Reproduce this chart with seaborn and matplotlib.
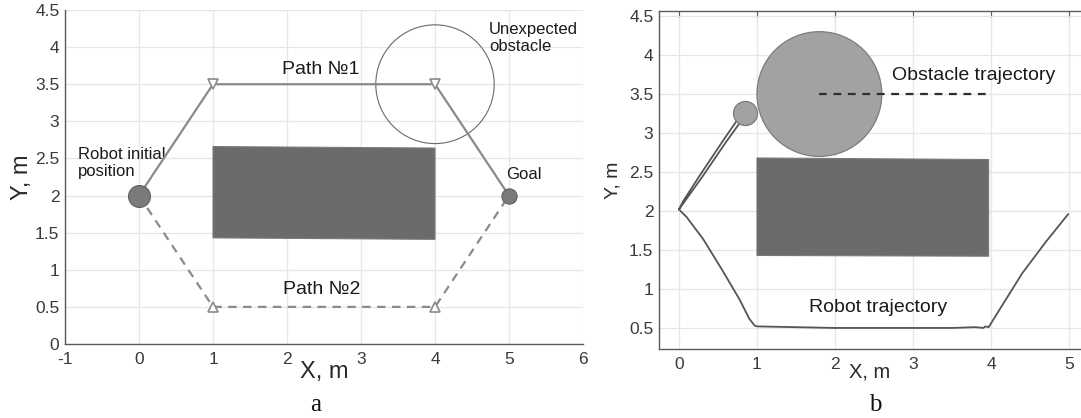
import matplotlib
matplotlib.use("Agg")
import matplotlib.pyplot as plt
import seaborn as sns
import numpy as np
import pandas as pd
from matplotlib.patches import Circle, Polygon

# ---------------- data ----------------
# panel a
path1_x = [0, 1, 4, 5]
path1_y = [2, 3.5, 3.5, 2]
path2_x = [0, 1, 4, 5]
path2_y = [2, 0.5, 0.5, 2]
start_xy = (0, 2)
goal_xy = (5, 2)
obstacle_a_center = (4, 3.5)
obstacle_a_radius = 0.8
block_a = [(1.0, 2.66), (4.0, 2.64), (4.0, 1.41), (1.0, 1.43)]

# panel b
robot_traj_x = [0.0, 0.3, 0.6, 0.83, 0.79, 0.55, 0.25, 0.05, 0.0,
                0.1, 0.31, 0.55, 0.78, 0.9, 0.97, 1.0, 1.5, 2.0, 2.5, 3.0,
                3.5, 3.8, 3.9, 3.93, 3.97, 4.2, 4.4, 4.7, 4.99]
robot_traj_y = [2.02, 2.44, 2.88, 3.2, 3.23, 2.88, 2.43, 2.12, 2.02,
                1.92, 1.64, 1.25, 0.86, 0.62, 0.53, 0.52, 0.51, 0.50, 0.50, 0.50,
                0.50, 0.51, 0.50, 0.52, 0.51, 0.88, 1.20, 1.60, 1.96]
obst_traj_x = [1.8, 4.0]
obst_traj_y = [3.5, 3.5]
obstacle_b_center = (1.8, 3.5)
obstacle_b_radius = 0.8
robot_b_xy = (0.85, 3.26)
block_b = [(1.0, 2.68), (3.97, 2.66), (3.97, 1.42), (1.0, 1.43)]

xticks_a = [-1, 0, 1, 2, 3, 4, 5, 6]
yticks_a = [0, 0.5, 1, 1.5, 2, 2.5, 3, 3.5, 4, 4.5]
xticks_b = [0, 1, 2, 3, 4, 5]
yticks_b = [0.5, 1, 1.5, 2, 2.5, 3, 3.5, 4, 4.5]

# ---------------- style ----------------
sns.set_theme(style="whitegrid")
plt.rcParams['font.family'] = ['Liberation Sans', 'DejaVu Sans']
plt.rcParams['grid.color'] = '#e6e6e6'
plt.rcParams['grid.linewidth'] = 0.9

fig = plt.figure(figsize=(10.81, 4.18), dpi=100)
W, H = 1081, 418
axA = fig.add_axes([65 / W, (H - 344) / H, (583 - 65) / W, (344 - 10) / H])
axB = fig.add_axes([659 / W, (H - 349) / H, (1081 - 659) / W, (349 - 11) / H])

spine_c = '#5a5a5a'
for ax in (axA, axB):
    ax.set_facecolor('white')
    ax.grid(True, color='#e6e6e6', lw=0.9)
    ax.set_axisbelow(True)
    ax.tick_params(direction='in', length=4, width=0.8, color=spine_c,
                   labelcolor='#3a3a3a', labelsize=12.5, pad=6)
    ax.tick_params(axis='y', pad=4)

# ---------------- panel a ----------------
axA.add_patch(Polygon(block_a, closed=True, facecolor='#6b6b6b', edgecolor='#7a7a7a', lw=0.8, zorder=2))
axA.add_patch(Circle(obstacle_a_center, obstacle_a_radius, facecolor='none', edgecolor='#6a6a6a', lw=0.8, zorder=3))

sns.lineplot(x=path1_x, y=path1_y, sort=False, estimator=None, ax=axA, color='#8a8a8a', lw=1.6,
             marker='v', markevery=[1, 2], markersize=7, markerfacecolor='white',
             markeredgecolor='#8a8a8a', markeredgewidth=1.2, zorder=4)
sns.lineplot(x=path2_x, y=path2_y, sort=False, estimator=None, ax=axA, color='#8a8a8a', lw=1.6,
             dashes=False, linestyle=(0, (3.8, 2.9)),
             marker='^', markevery=[1, 2], markersize=7, markerfacecolor='white',
             markeredgecolor='#8a8a8a', markeredgewidth=1.2, zorder=4)
sns.scatterplot(x=[start_xy[0]], y=[start_xy[1]], ax=axA, s=250, color='#7a7a7a',
                edgecolor='#606060', linewidth=0.8, zorder=5)
sns.scatterplot(x=[goal_xy[0]], y=[goal_xy[1]], ax=axA, s=120, color='#7a7a7a',
                edgecolor='#606060', linewidth=0.8, zorder=5)

txt_c = '#1a1a1a'
axA.text(2.46, 3.70, 'Path №1', ha='center', va='center', fontsize=14, color=txt_c)
axA.text(2.47, 0.73, 'Path №2', ha='center', va='center', fontsize=14, color=txt_c)
axA.text(4.73, 4.12, 'Unexpected\nobstacle', ha='left', va='center', fontsize=12, color=txt_c)
axA.text(5.2, 2.29, 'Goal', ha='center', va='center', fontsize=12, color=txt_c)
axA.text(-0.82, 2.44, 'Robot initial\nposition', ha='left', va='center', fontsize=12, color=txt_c)

axA.set_xlim(-1, 6)
axA.set_ylim(0, 4.5)
axA.set_xticks(xticks_a)
axA.set_yticks(yticks_a)
axA.set_xticklabels([str(v) for v in xticks_a])
axA.set_yticklabels([('%g' % v) for v in yticks_a])
for s in ('top', 'right'):
    axA.spines[s].set_visible(False)
for s in ('left', 'bottom'):
    axA.spines[s].set_color(spine_c)
    axA.spines[s].set_linewidth(1.0)
axA.set_xlabel('X, m', fontsize=17, color='#2a2a2a')
axA.set_ylabel('Y, m', fontsize=17, color='#2a2a2a')
axA.xaxis.set_label_coords(0.5, -0.05)
axA.yaxis.set_label_coords(-0.062, 0.5)

# ---------------- panel b ----------------
axB.add_patch(Polygon(block_b, closed=True, facecolor='#6b6b6b', edgecolor='#7a7a7a', lw=0.8, zorder=2))
axB.add_patch(Circle(obstacle_b_center, obstacle_b_radius, facecolor='#a2a2a2', edgecolor='#7c7c7c', lw=0.9, zorder=3))

sns.lineplot(x=obst_traj_x, y=obst_traj_y, sort=False, estimator=None, ax=axB, color='#2e2e2e',
             lw=1.6, linestyle=(0, (3.5, 3.0)), zorder=4)
sns.lineplot(x=robot_traj_x, y=robot_traj_y, sort=False, estimator=None, ax=axB, color='#555555',
             lw=1.3, zorder=4)
sns.scatterplot(x=[robot_b_xy[0]], y=[robot_b_xy[1]], ax=axB, s=300, color='#a2a2a2',
                edgecolor='#7c7c7c', linewidth=0.9, zorder=5)

axB.text(2.73, 3.74, 'Obstacle trajectory', ha='left', va='center', fontsize=14, color=txt_c)
axB.text(2.55, 0.76, 'Robot trajectory', ha='center', va='center', fontsize=14, color=txt_c)

axB.set_xlim(-0.256, 5.154)
axB.set_ylim(0.23, 4.565)
axB.set_xticks(xticks_b)
axB.set_yticks(yticks_b)
axB.set_xticklabels([str(v) for v in xticks_b])
axB.set_yticklabels([('%g' % v) for v in yticks_b])
axB.tick_params(top=True, right=False)
axB.spines['right'].set_visible(False)
for s in ('left', 'bottom', 'top'):
    axB.spines[s].set_color(spine_c)
    axB.spines[s].set_linewidth(1.0)
axB.set_xlabel('X, m', fontsize=14.5, color='#2a2a2a')
axB.set_ylabel('Y, m', fontsize=14, color='#2a2a2a')
axB.xaxis.set_label_coords(0.5, -0.041)
axB.yaxis.set_label_coords(-0.088, 0.5)

# panel letters
fig.text(316 / W, 1 - 405 / H, 'a', ha='center', va='center', fontsize=18,
         family=['Liberation Serif', 'DejaVu Serif'], color='#111111')
fig.text(875 / W, 1 - 405 / H, 'b', ha='center', va='center', fontsize=18,
         family=['Liberation Serif', 'DejaVu Serif'], color='#111111')

for ax in (axA, axB):
    leg = ax.get_legend()
    if leg is not None:
        leg.remove()

fig.savefig('out.png', dpi=100, facecolor='white')
